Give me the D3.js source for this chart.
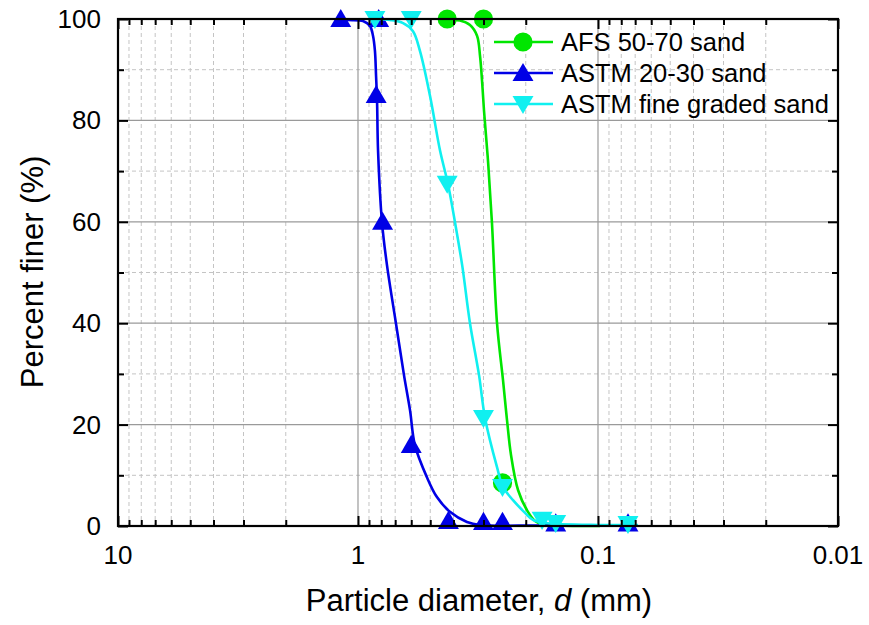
<!DOCTYPE html>
<html><head><meta charset="utf-8">
<script src="https://cdn.jsdelivr.net/npm/d3@7"></script>
<style>
html,body{margin:0;padding:0;background:#fff;}
text{font-family:"Liberation Sans",Arial,sans-serif;fill:#000;}
</style></head>
<body>
<svg id="chart" width="869" height="625"></svg>
<script>
// ---- data ----
const xTickValues = [10, 1, 0.1, 0.01];
const xTickLabels = ["10", "1", "0.1", "0.01"];
const yTickValues = [0, 20, 40, 60, 80, 100];
const yTickLabels = ["0", "20", "40", "60", "80", "100"];
const seriesNames = ["AFS 50-70 sand", "ASTM 20-30 sand", "ASTM fine graded sand"];

// measured points
const afsD = [0.425, 0.3, 0.25];
const afsP = [100, 100, 8.5];
const astm2030D = [1.18, 0.82, 0.84, 0.79, 0.6, 0.42, 0.3, 0.25, 0.15, 0.075];
const astm2030P = [100, 100, 85, 60, 16, 1, 0.8, 0.8, 0.5, 0.5];
const fineD = [0.85, 0.6, 0.425, 0.3, 0.25, 0.171, 0.15, 0.075];
const fineP = [100, 100, 67.5, 21.3, 7.7, 1.2, 0.6, 0.4];

// fitted curves
const afsCurveD = [0.434,0.376,0.3415,0.3192,0.3101,0.3042,0.2985,0.2873,0.2766,0.2635,0.2487,0.2394,0.2304,0.2154,0.1976,0.183,0.1662,0.14,0.0981];
const afsCurveP = [99.8,99.7,98.8,96.7,92.7,87.8,81.9,72.0,59.8,40.0,28.7,20.9,14.0,7.1,3.1,1.0,0.2,0.05,0];
const astm2030CurveD = [1.18,1.101,0.953,0.891,0.866,0.85,0.841,0.833,0.825,0.794,0.757,0.695,0.643,0.607,0.579,0.516,0.469,0.414,0.3516,0.31,0.1745,0.0736];
const astm2030CurveP = [100,99.8,99.6,98.6,96.7,93.7,88.8,83.9,74.0,59.8,51.4,40.0,29.7,22.8,15.9,9.6,5.7,2.8,0.8,0.2,0.1,0.1];
const fineCurveD = [0.833,0.7356,0.649,0.59,0.552,0.501,0.455,0.422,0.394,0.368,0.3415,0.313,0.2956,0.2635,0.2487,0.226,0.2014,0.1866,0.1662,0.0981,0.0681];
const fineCurveP = [100,99.8,99.2,97.6,93.7,84.8,74.0,67.5,59.8,51.4,40.0,29.7,21.3,11.6,7.7,5.1,2.6,1.2,0.6,0.2,0.2];

// ---- layout ----
const svg = d3.select("#chart");
const L = 118, R = 838, T = 19, B = 526;
const x = d3.scaleLog().domain([10, 0.01]).range([L, R]);
const y = d3.scaleLinear().domain([0, 100]).range([B, T]);

const minorX = [];
for (let e = 0; e >= -2; e--) for (let k = 2; k <= 9; k++) minorX.push(+(k * Math.pow(10, e)).toPrecision(3));
const minorY = [10, 30, 50, 70, 90];

// grid
const grid = svg.append("g");
grid.selectAll(".gxm").data(minorX).join("line")
  .attr("x1", d => x(d)).attr("x2", d => x(d)).attr("y1", T).attr("y2", B)
  .attr("stroke", "#c4c4c4").attr("stroke-width", 1).attr("stroke-dasharray", "4,3");
grid.selectAll(".gym").data(minorY).join("line")
  .attr("x1", L).attr("x2", R).attr("y1", d => y(d)).attr("y2", d => y(d))
  .attr("stroke", "#c4c4c4").attr("stroke-width", 1).attr("stroke-dasharray", "4,3");
grid.selectAll(".gxM").data([1, 0.1]).join("line")
  .attr("x1", d => x(d)).attr("x2", d => x(d)).attr("y1", T).attr("y2", B)
  .attr("stroke", "#9a9a9a").attr("stroke-width", 1.2);
grid.selectAll(".gyM").data([20, 40, 60, 80]).join("line")
  .attr("x1", L).attr("x2", R).attr("y1", d => y(d)).attr("y2", d => y(d))
  .attr("stroke", "#9a9a9a").attr("stroke-width", 1.2);

// series
const series = [
  {name: seriesNames[0], color: "#00e600", sym: "circle", cd: afsCurveD, cp: afsCurveP, pd: afsD, pp: afsP},
  {name: seriesNames[1], color: "#0000e6", sym: "up", cd: astm2030CurveD, cp: astm2030CurveP, pd: astm2030D, pp: astm2030P},
  {name: seriesNames[2], color: "#10f0f0", sym: "down", cd: fineCurveD, cp: fineCurveP, pd: fineD, pp: fineP}
];
const line = d3.line().x(d => x(d[0])).y(d => y(d[1])).curve(d3.curveCatmullRom.alpha(0.5));
const symPath = s => s === "circle" ? d3.symbol(d3.symbolCircle, 290)() : d3.symbol(d3.symbolTriangle, 190)();
const symRot = s => s === "down" ? " rotate(180)" : "";

series.forEach(s => {
  const g = svg.append("g");
  g.append("path").datum(s.cd.map((d, i) => [d, s.cp[i]]))
    .attr("d", line).attr("fill", "none").attr("stroke", s.color).attr("stroke-width", 2.6);
  g.selectAll("path.m").data(s.pd.map((d, i) => [d, s.pp[i]])).join("path")
    .attr("class", "m").attr("d", symPath(s.sym))
    .attr("transform", d => `translate(${x(d[0])},${y(d[1]) + (s.sym === "up" ? 2 : s.sym === "down" ? -2 : 0)})${symRot(s.sym)}`)
    .attr("fill", s.color);
});

// axes
const ax = svg.append("g");
function tickAxis(axisFn, scale, vals, size, transform) {
  ax.append("g").attr("transform", transform)
    .call(axisFn(scale).tickValues(vals).tickSize(size).tickFormat(""))
    .call(g => g.select(".domain").remove())
    .call(g => g.selectAll("line").attr("stroke", "#000").attr("stroke-width", 2));
}
tickAxis(d3.axisBottom, x, xTickValues, -10, `translate(0,${B})`);
tickAxis(d3.axisBottom, x, minorX, -6, `translate(0,${B})`);
tickAxis(d3.axisTop, x, xTickValues, -10, `translate(0,${T})`);
tickAxis(d3.axisTop, x, minorX, -6, `translate(0,${T})`);
tickAxis(d3.axisLeft, y, yTickValues, -10, `translate(${L},0)`);
tickAxis(d3.axisLeft, y, minorY, -6, `translate(${L},0)`);
tickAxis(d3.axisRight, y, yTickValues, -10, `translate(${R},0)`);
tickAxis(d3.axisRight, y, minorY, -6, `translate(${R},0)`);
ax.append("rect").attr("x", L).attr("y", T).attr("width", R - L).attr("height", B - T)
  .attr("fill", "none").attr("stroke", "#000").attr("stroke-width", 2.2);

// tick labels
svg.append("g").selectAll("text").data(xTickValues).join("text")
  .attr("x", d => x(d)).attr("y", 564).attr("text-anchor", "middle")
  .attr("font-size", 26).text((d, i) => xTickLabels[i]);
svg.append("g").selectAll("text").data(yTickValues).join("text")
  .attr("x", 101).attr("y", d => y(d) + 9).attr("text-anchor", "end")
  .attr("font-size", 26).text((d, i) => yTickLabels[i]);

// axis titles
const xt = svg.append("text").attr("x", 479).attr("y", 611).attr("text-anchor", "middle").attr("font-size", 31);
xt.append("tspan").text("Particle diameter, ");
xt.append("tspan").attr("font-style", "italic").text("d");
xt.append("tspan").text(" (mm)");
svg.append("text").attr("transform", "translate(43,272) rotate(-90)")
  .attr("text-anchor", "middle").attr("font-size", 31).text("Percent finer (%)");

// legend
const lg = svg.append("g");
series.forEach((s, i) => {
  const yy = 42 + i * 31;
  lg.append("line").attr("x1", 494).attr("x2", 553).attr("y1", yy).attr("y2", yy)
    .attr("stroke", s.color).attr("stroke-width", 2.6);
  lg.append("path").attr("d", symPath(s.sym))
    .attr("transform", `translate(523,${yy + (s.sym === "up" ? 2 : s.sym === "down" ? -2 : 0)})${symRot(s.sym)}`)
    .attr("fill", s.color);
  lg.append("text").attr("x", 561).attr("y", yy + 9).attr("font-size", 25.5).text(s.name);
});
</script>
</body></html>
